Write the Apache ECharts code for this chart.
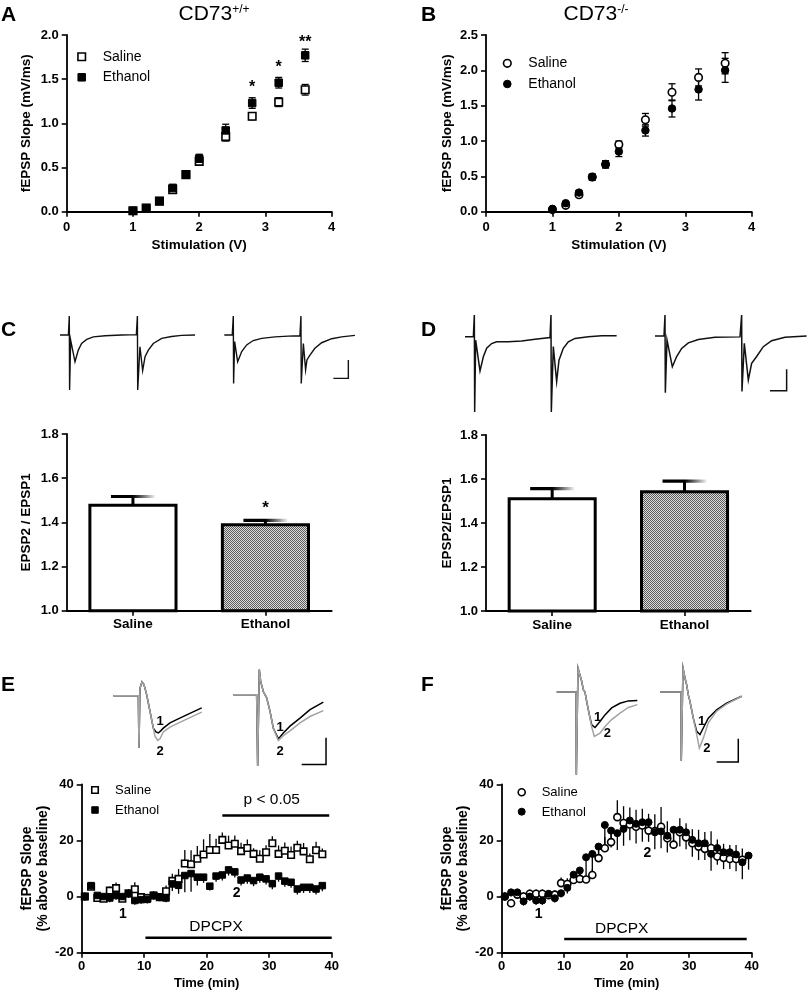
<!DOCTYPE html>
<html><head><meta charset="utf-8">
<script src="https://cdn.jsdelivr.net/npm/echarts@6/dist/echarts.min.js"></script>
<style>html,body{margin:0;padding:0;background:#fff}#c{width:810px;height:992px}</style>
</head><body><div id="c"></div>
<script>
const FONT = 'Liberation Sans, Arial, sans-serif';

// ---------- Panel A / B : input-output ----------
const stimV = [1.0, 1.2, 1.4, 1.6, 1.8, 2.0, 2.4, 2.8, 3.2, 3.6];
const aSaline = [0.01, 0.04, 0.12, 0.25, 0.42, 0.57, 0.85, 1.08, 1.24, 1.38];
const aSalineErr = [0.01, 0.01, 0.02, 0.03, 0.03, 0.04, 0.05, 0.04, 0.05, 0.06];
const aEthanol = [0.01, 0.04, 0.12, 0.27, 0.42, 0.60, 0.92, 1.23, 1.46, 1.77];
const aEthanolErr = [0.01, 0.01, 0.02, 0.03, 0.03, 0.05, 0.07, 0.06, 0.06, 0.07];
const aStars = [[2.8, 1.40, '*'], [3.2, 1.63, '*'], [3.6, 1.91, '**']];
const bSaline = [0.03, 0.09, 0.24, 0.49, 0.67, 0.95, 1.30, 1.69, 1.90, 2.10];
const bSalineErr = [0.01, 0.02, 0.03, 0.04, 0.05, 0.05, 0.09, 0.12, 0.12, 0.15];
const bEthanol = [0.04, 0.12, 0.27, 0.49, 0.67, 0.85, 1.15, 1.46, 1.73, 2.00];
const bEthanolErr = [0.01, 0.02, 0.03, 0.04, 0.05, 0.07, 0.08, 0.12, 0.15, 0.17];

// ---------- Panel C / D : paired-pulse ratio ----------
const groups = ['Saline', 'Ethanol'];
const cRatio = [1.477, 1.389];
const cRatioErr = [0.04, 0.02];
const cStars = [['Ethanol', 1.462, '*']];
const dRatio = [1.51, 1.542];
const dRatioErr = [0.046, 0.048];

// example traces (ms, mV)
const cTraceSaline = [[0,0],[5.6,0],[6.2,0.52],[6.4,-1.5],[7.1,-0.14],[10,-0.73],[12.2,-0.41],[14.4,-0.23],[17.8,-0.12],[22.2,-0.05],[30,-0.02],[41.1,0],[50.9,0.01],[51.6,0.52],[51.8,-1.5],[53.3,-0.32],[55.1,-0.97],[56.7,-0.59],[58.9,-0.41],[62.2,-0.23],[67.8,-0.09],[74.4,-0.04],[81.1,-0.01],[90,0]];
const cTraceEthanol = [[0,0],[5.3,0],[6,0.52],[6.2,-1.32],[6.9,-0.18],[8.9,-0.73],[11.6,-0.45],[14.9,-0.27],[19.3,-0.15],[24.9,-0.09],[33.8,-0.05],[42.7,-0.03],[50.4,-0.02],[51.1,0.52],[51.3,-1.32],[52.7,-0.23],[54.2,-0.95],[55.1,-0.68],[57.1,-0.55],[60.4,-0.36],[64.9,-0.21],[71.6,-0.1],[78.2,-0.05],[87.1,-0.01]];
const cScaleBar = [[72.7,-1.18],[82.7,-1.18],[82.7,-0.68]];
const dTraceSaline = [[0,0],[5,0],[5.6,0.51],[5.8,-1.76],[6.4,-0.08],[9,-0.8],[11,-0.47],[13,-0.27],[16,-0.16],[19,-0.12],[26,-0.12],[34,-0.1],[42,-0.06],[51,-0.02],[51.6,0.51],[51.8,-1.76],[53,-0.23],[55,-1.05],[56.4,-0.55],[59,-0.27],[62,-0.12],[66,-0.04],[74,0],[82,0.02],[91,0.02]];
const dTraceEthanol = [[0,0],[5.4,0],[6,0.49],[6.2,-1.33],[7.2,-0.09],[10.4,-0.72],[13,-0.48],[16,-0.29],[20,-0.16],[26,-0.08],[36,-0.03],[51,-0.02],[52,0.49],[52.2,-1.3],[53.6,-0.17],[56,-1.03],[58,-0.64],[61,-0.48],[65,-0.25],[70,-0.11],[78,-0.03],[91,0]];
const dScaleBar = [[69,-1.28],[79,-1.28],[79,-0.78]];

// ---------- Panel E / F : DPCPX time course ----------
const timeMin = [0.5,1.5,2.5,3.5,4.5,5.5,6.5,7.5,8.5,9.5,10.5,11.5,12.5,13.5,14.5,15.5,16.5,17.5,18.5,19.5,20.5,21.5,22.5,23.5,24.5,25.5,26.5,27.5,28.5,29.5,30.5,31.5,32.5,33.5,34.5,35.5,36.5,37.5,38.5];
const timeMinF = [0.5,1.5,2.5,3.5,4.5,5.5,6.5,7.5,8.5,9.5,10.5,11.5,12.5,13.5,14.5,15.5,16.5,17.5,18.5,19.5,20.5,21.5,22.5,23.5,24.5,25.5,26.5,27.5,28.5,29.5,30.5,31.5,32.5,33.5,34.5,35.5,36.5,37.5,38.5,39.5];
const eSaline = [0,3.5,-0.5,-0.8,2.1,3.0,-0.8,1.2,2.6,-0.2,-0.5,0.4,-0.2,1.9,5.6,6.3,11.8,11.5,13.5,15.0,16.6,16.6,20.2,18.2,18.8,16.2,17.3,15.2,13.5,15.8,19.0,15.2,16.3,14.8,17.4,16.1,13.3,16.5,15.1];
const eSalineErr = [1.5,1.5,1.5,1.5,1.5,2,1.5,1.5,2.5,1.5,1.5,1.5,1.5,2,2.5,3.5,4.8,5,4.5,5.4,5.7,4,2.6,3.5,3,3,3,2,3,2.5,2.5,3,3,3,2.5,3,2,3,2];
const eEthanol = [0,3.9,0.4,0,-0.5,0.4,0,1.0,-1.4,-1.1,-1.0,0.4,-0.2,-0.5,4.5,4.0,7.5,8.2,6.9,6.9,3.7,7.3,7.7,9.5,8.8,5.9,6.6,5.7,6.9,6.3,4.6,7.3,5.5,5.1,2.7,3.3,3.3,2.7,3.9];
const eEthanolErr = [1.5,1.5,1.5,1.5,1.5,1.5,1.5,1.5,1.5,1.5,1.5,1.5,1.5,1.5,2.5,3,6,6.5,3,2,1.5,2,2,2,2,2,2,2,2,2,2,2,2,2,2,2,2,2,2];
const fSaline = [0,-2.4,0.7,0,1.0,1.0,1.0,0.5,0.7,4.8,4.5,5.9,6.3,6.1,7.7,13.7,17.2,19.4,28.3,26.2,25.7,24.9,25.3,23.5,23.3,24.9,20.8,18.5,22.9,21.1,19.0,17.8,17.0,17.3,14.3,13.8,13.4,13.4,13.1];
const fSalineErr = [1.5,1.5,1.5,1.5,1.5,1.5,1.5,1.5,1.5,2,2,2,2,2,2,3,4,4,6,6,6,6,6,6,6,7,6,5,5,5,5,6,6,6,6,5,5,5,4];
const fEthanol = [0,1.5,1.5,-1.7,0,-1.4,-1.4,1.0,-0.6,1.2,3.1,7.8,9.3,14.0,15.2,17.8,25.5,23.5,22.6,24.1,27.1,25.9,26.5,26.5,22.9,23.2,21.7,23.8,23.8,22.9,20.2,19.0,19.0,15.2,17.3,15.8,15.8,15.0,12.2,14.6];
const fEthanolErr = [1.5,1.5,1.5,1.5,1.5,1.5,1.5,1.5,1.5,1.5,2,3,3,6,7.5,5,9,6,6,6,7,7,7,7,6,6,6,6,6,6,6,6,6,6,6,6,6,6,6,5];
const eSigBar = [[22.5, 28.9], [39.6, 28.9]];
const eDrugBar = [[10.2, -14.7], [40, -14.7]];
const fDrugBar = [[10, -15.1], [39.2, -15.1]];
const eLabels = [[30.4, 34.6, 'p < 0.05'], [21.5, -10.9, 'DPCPX']];
const eNumLabels = [[6.6, -6.4, '1'], [24.8, 1.2, '2']];
const fLabels = [[19.2, -11.5, 'DPCPX']];
const fNumLabels = [[5.9, -6.4, '1'], [23.3, 15.4, '2']];

// example traces for E/F (ms, mV); 1 = baseline, 2 = DPCPX
const eSalTrace1 = [[0,0],[5.14,0],[5.27,-0.98],[5.48,0.14],[5.89,0.26],[6.3,0.21],[6.85,0.02],[7.53,-0.29],[8.22,-0.61],[8.77,-0.68],[9.25,-0.7],[9.73,-0.66],[10.27,-0.61],[11.64,-0.51],[13.01,-0.45],[15.07,-0.36],[18.15,-0.23]];
const eSalTrace2 = [[0,0],[5.14,0],[5.27,-0.98],[5.48,0.14],[5.89,0.26],[6.3,0.21],[6.85,0.02],[7.53,-0.29],[8.56,-0.76],[9.11,-0.84],[9.59,-0.81],[10.27,-0.68],[11.64,-0.59],[13.01,-0.53],[15.07,-0.44],[18.15,-0.31]];
const eEthTrace1 = [[0,0],[4.79,0],[5,-1.34],[5.34,0.47],[5.62,0.25],[6.16,0.06],[6.85,-0.06],[7.53,-0.31],[8.22,-0.63],[9.25,-0.83],[10.27,-0.72],[11.64,-0.59],[13.7,-0.44],[15.75,-0.28],[18.49,-0.14]];
const eEthTrace2 = [[0,0],[4.79,0],[5,-1.34],[5.34,0.47],[5.62,0.25],[6.16,0.06],[6.85,-0.06],[7.53,-0.31],[8.22,-0.63],[9.25,-0.86],[10.27,-0.77],[11.64,-0.68],[13.7,-0.53],[15.75,-0.41],[18.49,-0.3]];
const eScaleBar = [[14.04,-1.31],[19.04,-1.31],[19.04,-0.81]];
const eSalTraceLabels = [[9.6,-0.48,'1'],[9.6,-1.04,'2']];
const eEthTraceLabels = [[9.6,-0.62,'1'],[9.6,-1.06,'2']];
const fSalTrace1 = [[0,0],[4.46,0],[4.54,-1.77],[4.92,0.51],[5.38,0.48],[5.77,0.23],[6.15,0.05],[6.54,0],[6.92,-0.2],[7.54,-0.49],[8.08,-0.7],[8.85,-0.76],[10,-0.63],[11.15,-0.49],[12.69,-0.34],[14.62,-0.24],[16.54,-0.19],[18.62,-0.18]];
const fSalTrace2 = [[0,0],[4.46,0],[4.54,-1.77],[4.92,0.51],[5.38,0.48],[5.77,0.23],[6.15,0.05],[6.54,0],[6.92,-0.2],[7.54,-0.49],[8.08,-0.75],[8.69,-0.95],[10,-0.88],[11.15,-0.74],[12.69,-0.59],[14.62,-0.45],[16.54,-0.33],[18.62,-0.27]];
const fEthTrace1 = [[0,0],[4.85,0],[4.92,-1.47],[5.31,0.51],[5.77,0.3],[6.15,0.16],[6.54,-0.06],[6.92,-0.2],[7.69,-0.56],[8.46,-0.84],[9.23,-0.91],[10,-0.77],[11.15,-0.56],[13.08,-0.38],[15.38,-0.24],[18.85,-0.09]];
const fEthTrace2 = [[0,0],[4.85,0],[4.92,-1.47],[5.31,0.51],[5.77,0.3],[6.15,0.16],[6.54,-0.06],[6.92,-0.2],[7.69,-0.56],[8.46,-0.9],[9.08,-1.2],[10,-0.99],[11.15,-0.66],[13.08,-0.41],[15.38,-0.26],[18.85,-0.09]];
const fScaleBar = [[13.08,-1.5],[18.08,-1.5],[18.08,-1.0]];
const fSalTraceLabels = [[9.47,-0.54,'1'],[11.7,-0.88,'2']];
const fEthTraceLabels = [[9.63,-0.63,'1'],[10.8,-1.2,'2']];

// ---------- helpers ----------
const zip = (xs, ys, es) => xs.map((x, i) => es ? [x, ys[i], es[i]] : [x, ys[i]]);

function mkGrid(l, t, w, h) { return {left: l, top: t, width: w, height: h, outerBoundsMode: 'none', containLabel: false}; }

function valAxis(gi, min, max, interval, opts) {
  opts = opts || {};
  return Object.assign({
    type: 'value', gridIndex: gi, min, max, interval,
    axisLine: {show: true, onZero: false, lineStyle: {color: '#000', width: 1.8}},
    axisTick: {show: true, length: 5, lineStyle: {color: '#000', width: 1.6}},
    splitLine: {show: false},
    axisLabel: {color: '#000', fontFamily: FONT, fontWeight: 'bold', fontSize: 13, margin: opts.margin || 8,
      formatter: opts.fmt || (v => String(v))},
    name: opts.name || '', nameLocation: 'middle', nameGap: opts.nameGap || 30,
    nameTextStyle: {color: '#000', fontFamily: FONT, fontWeight: 'bold', fontSize: opts.nameSize || 13.5, lineHeight: 16},
    nameRotate: opts.rotate
  }, opts.extra || {});
}
function hiddenAxis(gi, min, max) {
  return {type: 'value', gridIndex: gi, min, max, show: false, splitLine: {show: false}};
}
function errBars(gi, xs, ys, es, dir, cap) {
  return {
    type: 'custom', xAxisIndex: gi, yAxisIndex: gi, z: 2, silent: true,
    data: zip(xs, ys, es),
    renderItem(params, api) {
      const x = api.value(0), y = api.value(1), e = api.value(2);
      const hi = dir === 'down' ? y : y + e;
      const lo = dir === 'up' ? y : y - e;
      const p1 = api.coord([x, hi]), p2 = api.coord([x, lo]);
      const st = {stroke: '#000', lineWidth: 1.3};
      const ch = [{type: 'line', shape: {x1: p1[0], y1: p1[1], x2: p2[0], y2: p2[1]}, style: st}];
      if (cap) {
        if (dir !== 'down') ch.push({type: 'line', shape: {x1: p1[0] - cap, y1: p1[1], x2: p1[0] + cap, y2: p1[1]}, style: st});
        if (dir !== 'up') ch.push({type: 'line', shape: {x1: p2[0] - cap, y1: p2[1], x2: p2[0] + cap, y2: p2[1]}, style: st});
      }
      return {type: 'group', children: ch};
    }
  };
}
function points(gi, xs, ys, symbol, filled, size, z) {
  return {
    type: 'scatter', xAxisIndex: gi, yAxisIndex: gi, z: z || 3, silent: true,
    symbol, symbolSize: size, data: zip(xs, ys),
    itemStyle: filled ? {color: '#000', borderColor: '#000', borderWidth: 1, opacity: 1}
                      : {color: '#fff', borderColor: '#000', borderWidth: 1.6, opacity: 1}
  };
}
function texts(gi, items, font) {
  return {
    type: 'custom', xAxisIndex: gi, yAxisIndex: gi, z: 6, silent: true,
    data: items.map(d => [d[0], d[1]]),
    renderItem(params, api) {
      const p = api.coord([api.value(0), api.value(1)]);
      return {type: 'text', x: p[0], y: p[1],
        style: {text: items[params.dataIndex][2], font, fill: '#000', align: 'center', verticalAlign: 'middle'}};
    }
  };
}
function pline(gi, data, color, width, z) {
  return {type: 'line', xAxisIndex: gi, yAxisIndex: gi, data, showSymbol: false, symbol: 'none', clip: false, silent: true,
    z: z || 3, lineStyle: {color, width, cap: 'butt', join: 'miter'}};
}

// pattern for the ethanol bars
const pat = document.createElement('canvas');
pat.width = 2; pat.height = 2;
(function () {
  const g = pat.getContext('2d');
  g.fillStyle = '#dedede'; g.fillRect(0, 0, 2, 2);
  g.fillStyle = '#5a5a5a'; g.fillRect(0, 0, 1, 1); g.fillRect(1, 1, 1, 1);
})();

function barSeries(gi, vals) {
  return {
    type: 'custom', xAxisIndex: gi, yAxisIndex: gi, z: 2, silent: true,
    data: vals.map((v, i) => [i, v]),
    renderItem(params, api) {
      const c = api.value(0), v = api.value(1);
      const base = api.coord([c, 1.0]), top = api.coord([c, v]);
      const bw = api.size([1, 0])[0] * 0.65;
      return {type: 'rect', shape: {x: base[0] - bw / 2, y: top[1], width: bw, height: base[1] - top[1]},
        style: {fill: params.dataIndex === 1 ? {image: pat, repeat: 'repeat'} : '#fff', stroke: '#000', lineWidth: 3}};
    }
  };
}
function barErr(gi, vals, errs) {
  return {
    type: 'custom', xAxisIndex: gi, yAxisIndex: gi, z: 1, silent: true,
    data: vals.map((v, i) => [i, v, errs[i]]),
    renderItem(params, api) {
      const c = api.value(0), v = api.value(1), e = api.value(2);
      const p0 = api.coord([c, v]), p1 = api.coord([c, v + e]);
      return {type: 'group', children: [
        {type: 'line', shape: {x1: p0[0], y1: p0[1], x2: p1[0], y2: p1[1]}, style: {stroke: '#000', lineWidth: 3}},
        {type: 'rect', shape: {x: p1[0] - 22, y: p1[1] - 1.6, width: 44, height: 3.2},
          style: {fill: new echarts.graphic.LinearGradient(0, 0, 1, 0, [
            {offset: 0, color: '#000'}, {offset: 0.5, color: '#000'}, {offset: 0.75, color: '#777'}, {offset: 1, color: '#f2f2f2'}])}}
      ]};
    }
  };
}

// ---------- grids ----------
const grids = [
  mkGrid(66.7, 35, 265, 176.7),      // 0 A
  mkGrid(486, 35, 265.7, 176.7),     // 1 B
  mkGrid(66.7, 434, 265, 176.7),     // 2 C bars
  mkGrid(486, 435, 264.7, 176),      // 3 D bars
  mkGrid(81.7, 784.3, 250, 168.4),   // 4 E
  mkGrid(501.7, 784.3, 250, 168.4),  // 5 F
  mkGrid(60, 313, 138, 80.74),       // 6 C trace saline
  mkGrid(224.3, 313, 138, 80.74),    // 7 C trace ethanol
  mkGrid(465, 311.1, 153.3, 102.5),  // 8 D trace saline
  mkGrid(655, 310.4, 153.3, 102.5),  // 9 D trace ethanol
  mkGrid(113.3, 663.7, 97.4, 111.9), // 10 E trace saline
  mkGrid(233.3, 662.7, 97.4, 111.9), // 11 E trace ethanol
  mkGrid(556.7, 664, 86.6, 112.1),   // 12 F trace saline
  mkGrid(660, 664, 86.6, 112.1)      // 13 F trace ethanol
];

const f1 = v => v.toFixed(1);
const xAxes = [
  valAxis(0, 0, 4, 1, {margin: 9, name: 'Stimulation (V)', nameGap: 26}),
  valAxis(1, 0, 4, 1, {margin: 9, name: 'Stimulation (V)', nameGap: 26}),
  {type: 'category', gridIndex: 2, data: groups, boundaryGap: true,
    axisLine: {show: true, lineStyle: {color: '#000', width: 1.8}},
    axisTick: {show: true, alignWithLabel: true, length: 5, lineStyle: {color: '#000', width: 1.6}},
    axisLabel: {color: '#000', fontFamily: FONT, fontWeight: 'bold', fontSize: 13.5, margin: 7}},
  {type: 'category', gridIndex: 3, data: groups, boundaryGap: true,
    axisLine: {show: true, lineStyle: {color: '#000', width: 1.8}},
    axisTick: {show: true, alignWithLabel: true, length: 5, lineStyle: {color: '#000', width: 1.6}},
    axisLabel: {color: '#000', fontFamily: FONT, fontWeight: 'bold', fontSize: 13.5, margin: 7}},
  valAxis(4, 0, 40, 10, {margin: 7, name: 'Time (min)', nameGap: 23, nameSize: 13}),
  valAxis(5, 0, 40, 10, {margin: 7, name: 'Time (min)', nameGap: 23, nameSize: 13}),
  hiddenAxis(6, 0, 92), hiddenAxis(7, 0, 92), hiddenAxis(8, 0, 92), hiddenAxis(9, 0, 92),
  hiddenAxis(10, 0, 20), hiddenAxis(11, 0, 20), hiddenAxis(12, 0, 20), hiddenAxis(13, 0, 20)
];
const yAxes = [
  valAxis(0, 0, 2, 0.5, {fmt: f1, name: 'fEPSP Slope (mV/ms)', nameGap: 32, rotate: 90}),
  valAxis(1, 0, 2.5, 0.5, {fmt: f1, name: 'fEPSP Slope (mV/ms)', nameGap: 31, rotate: 90}),
  valAxis(2, 1.0, 1.8, 0.2, {fmt: f1, name: 'EPSP2 / EPSP1', nameGap: 32, rotate: 90}),
  valAxis(3, 1.0, 1.8, 0.2, {fmt: f1, name: 'EPSP2/EPSP1', nameGap: 31, rotate: 90}),
  valAxis(4, -20, 40, 20, {name: 'fEPSP Slope\n(% above baseline)', nameGap: 30, rotate: 90, nameSize: 14}),
  valAxis(5, -20, 40, 20, {name: 'fEPSP Slope\n(% above baseline)', nameGap: 30, rotate: 90, nameSize: 14}),
  hiddenAxis(6, -1.6, 0.6), hiddenAxis(7, -1.6, 0.6), hiddenAxis(8, -1.8, 0.6), hiddenAxis(9, -1.8, 0.6),
  hiddenAxis(10, -1.5, 0.6), hiddenAxis(11, -1.5, 0.6), hiddenAxis(12, -1.8, 0.6), hiddenAxis(13, -1.8, 0.6)
];

const series = [
  // A
  errBars(0, stimV, aSaline, aSalineErr, 'both', 3.5),
  errBars(0, stimV, aEthanol, aEthanolErr, 'both', 3.5),
  points(0, stimV, aSaline, 'rect', false, 7.5, 3),
  points(0, stimV, aEthanol, 'rect', true, 7.5, 4),
  texts(0, aStars, 'bold 16px ' + FONT),
  // B
  errBars(1, stimV, bSaline, bSalineErr, 'both', 3.5),
  errBars(1, stimV, bEthanol, bEthanolErr, 'both', 3.5),
  points(1, stimV, bSaline, 'circle', false, 7.5, 3),
  points(1, stimV, bEthanol, 'circle', true, 7.5, 4),
  // C / D bars
  barErr(2, cRatio, cRatioErr), barSeries(2, cRatio), texts(2, cStars, 'bold 17px ' + FONT),
  barErr(3, dRatio, dRatioErr), barSeries(3, dRatio),
  // E
  errBars(4, timeMin, eSaline, eSalineErr, 'up', 0),
  errBars(4, timeMin, eEthanol, eEthanolErr, 'down', 0),
  points(4, timeMin, eSaline, 'rect', false, 6.5, 3),
  points(4, timeMin, eEthanol, 'rect', true, 6.5, 4),
  pline(4, eSigBar, '#000', 2.5), pline(4, eDrugBar, '#000', 2.5),
  texts(4, eLabels, '15.5px ' + FONT), texts(4, eNumLabels, 'bold 14px ' + FONT),
  // F
  errBars(5, timeMinF, fSaline, fSalineErr, 'up', 0),
  errBars(5, timeMinF, fEthanol, fEthanolErr, 'down', 0),
  points(5, timeMin, fSaline, 'circle', false, 7, 3),
  points(5, timeMinF, fEthanol, 'circle', true, 7, 4),
  pline(5, fDrugBar, '#000', 2.5),
  texts(5, fLabels, '15.5px ' + FONT), texts(5, fNumLabels, 'bold 14px ' + FONT),
  // traces C / D
  pline(6, cTraceSaline, '#111', 1.4), pline(7, cTraceEthanol, '#111', 1.4), pline(7, cScaleBar, '#111', 1.4),
  pline(8, dTraceSaline, '#111', 1.5), pline(9, dTraceEthanol, '#111', 1.5), pline(9, dScaleBar, '#111', 1.5),
  // traces E / F (grey DPCPX trace drawn over the black baseline trace)
  pline(10, eSalTrace1, '#000', 1.5, 2), pline(10, eSalTrace2, '#a3a3a3', 1.5, 3),
  pline(11, eEthTrace1, '#000', 1.5, 2), pline(11, eEthTrace2, '#a3a3a3', 1.5, 3), pline(11, eScaleBar, '#000', 1.5),
  texts(10, eSalTraceLabels, 'bold 13px ' + FONT), texts(11, eEthTraceLabels, 'bold 13px ' + FONT),
  pline(12, fSalTrace1, '#000', 1.5, 2), pline(12, fSalTrace2, '#a3a3a3', 1.5, 3),
  pline(13, fEthTrace1, '#000', 1.5, 2), pline(13, fEthTrace2, '#a3a3a3', 1.5, 3), pline(13, fScaleBar, '#000', 1.5),
  texts(12, fSalTraceLabels, 'bold 13px ' + FONT), texts(13, fEthTraceLabels, 'bold 13px ' + FONT)
];

// ---------- legends, titles, panel letters ----------
const txt = (x, y, s, font, align) => ({type: 'text', x, y, z: 10, silent: true,
  style: {text: s, font, fill: '#000', align: align || 'left', verticalAlign: 'middle'}});
const sq = (cx, cy, s, filled) => ({type: 'rect', z: 10, silent: true, shape: {x: cx - s / 2, y: cy - s / 2, width: s, height: s},
  style: {fill: filled ? '#000' : '#fff', stroke: '#000', lineWidth: filled ? 1 : 1.6}});
const ci = (cx, cy, r, filled) => ({type: 'circle', z: 10, silent: true, shape: {cx, cy, r},
  style: {fill: filled ? '#000' : '#fff', stroke: '#000', lineWidth: filled ? 1 : 1.6}});
const legFont = '14px ' + FONT, legFontE = '13px ' + FONT;
const letterFont = 'bold 21px ' + FONT;

const graphic = [
  txt(1, 15, 'A', letterFont), txt(421, 15, 'B', letterFont),
  txt(1, 330, 'C', letterFont), txt(421, 330, 'D', letterFont),
  txt(1, 685, 'E', letterFont), txt(421, 685, 'F', letterFont),
  {type: 'text', x: 214, y: 14, z: 10, silent: true, style: {text: 'CD73{s|+/+}', font: '21px ' + FONT, fill: '#000',
    align: 'center', verticalAlign: 'middle', rich: {s: {fontSize: 12, fontFamily: FONT, verticalAlign: 'top', lineHeight: 12}}}},
  {type: 'text', x: 596, y: 14, z: 10, silent: true, style: {text: 'CD73{s|-/-}', font: '21px ' + FONT, fill: '#000',
    align: 'center', verticalAlign: 'middle', rich: {s: {fontSize: 12, fontFamily: FONT, verticalAlign: 'top', lineHeight: 12}}}},
  sq(81.7, 56.7, 7.5, false), txt(102.7, 57, 'Saline', legFont),
  sq(81.7, 77.3, 7.5, true), txt(102.7, 77.5, 'Ethanol', legFont),
  ci(507.3, 63.3, 3.8, false), txt(528.3, 63.5, 'Saline', legFont),
  ci(507.3, 84, 3.8, true), txt(528.3, 84.2, 'Ethanol', legFont),
  sq(95, 790, 6.5, false), txt(115, 790.5, 'Saline', legFontE),
  sq(95, 810, 6.5, true), txt(115, 810.5, 'Ethanol', legFontE),
  ci(521.7, 792.3, 3.5, false), txt(541.7, 792.5, 'Saline', legFontE),
  ci(521.7, 811.7, 3.5, true), txt(541.7, 812, 'Ethanol', legFontE)
];

const chart = echarts.init(document.getElementById('c'), null, {renderer: 'canvas'});
chart.setOption({
  animation: false, backgroundColor: '#fff',
  textStyle: {fontFamily: FONT},
  grid: grids, xAxis: xAxes, yAxis: yAxes, series, graphic
});
</script></body></html>
